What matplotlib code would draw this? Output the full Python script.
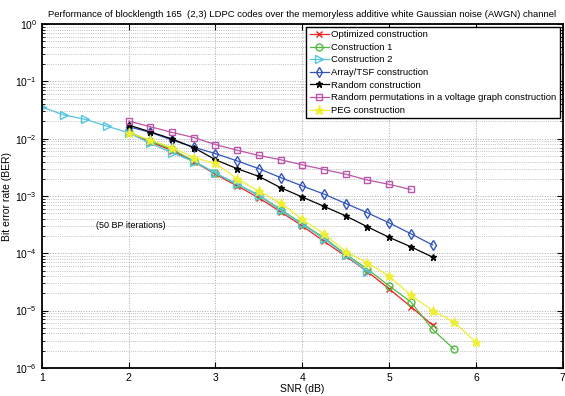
import numpy as np
import matplotlib
matplotlib.use("Agg")
import matplotlib.pyplot as plt
from matplotlib.ticker import LogLocator, NullFormatter

plt.rcParams['font.family'] = ['Liberation Sans', 'DejaVu Sans']

# SNR grids (dB)
snr_opt = [2, 2.25, 2.5, 2.75, 3, 3.25, 3.5, 3.75, 4, 4.25, 4.5, 4.75, 5, 5.25, 5.5]
snr_c1 = [2, 2.25, 2.5, 2.75, 3, 3.25, 3.5, 3.75, 4, 4.25, 4.5, 4.75, 5, 5.25, 5.5, 5.75]
snr_c2 = [1, 1.25, 1.5, 1.75, 2, 2.25, 2.5, 2.75, 3, 3.25, 3.5, 3.75, 4, 4.25, 4.5, 4.75]
snr_arr = [2, 2.25, 2.5, 2.75, 3, 3.25, 3.5, 3.75, 4, 4.25, 4.5, 4.75, 5, 5.25, 5.5]
snr_rnd = [2, 2.25, 2.5, 2.75, 3, 3.25, 3.5, 3.75, 4, 4.25, 4.5, 4.75, 5, 5.25, 5.5]
snr_volt = [2, 2.25, 2.5, 2.75, 3, 3.25, 3.5, 3.75, 4, 4.25, 4.5, 4.75, 5, 5.25]
snr_peg = [2, 2.25, 2.5, 2.75, 3, 3.25, 3.5, 3.75, 4, 4.25, 4.5, 4.75, 5, 5.25, 5.5, 5.75, 6]

# BER values
ber_opt = [0.013, 0.0088, 0.0062, 0.0040, 0.0024, 0.0015, 0.00093, 0.00053, 0.00030,
           0.000162, 8.9e-5, 4.8e-5, 2.4e-5, 1.17e-5, 5.6e-6]
ber_c1 = [0.0132, 0.0091, 0.0065, 0.0041, 0.0025, 0.0016, 0.00104, 0.00058, 0.00033,
          0.000187, 9.7e-5, 5.3e-5, 2.7e-5, 1.42e-5, 4.7e-6, 2.1e-6]
ber_c2 = [0.036, 0.026, 0.0218, 0.0166, 0.0127, 0.0083, 0.0057, 0.0040, 0.0025, 0.0016,
          0.00102, 0.00056, 0.00032, 0.00018, 9.3e-5, 4.8e-5]
ber_arr = [0.0162, 0.0129, 0.0095, 0.0071, 0.0055, 0.0041, 0.0030, 0.0021, 0.0015,
           0.00108, 0.00074, 0.00051, 0.00034, 0.00022, 0.00014]
ber_rnd = [0.0173, 0.0132, 0.0099, 0.0070, 0.0043, 0.0030, 0.0022, 0.0014, 0.00096,
           0.00066, 0.00045, 0.00029, 0.00019, 0.00013, 8.6e-5]
ber_volt = [0.0203, 0.0162, 0.0129, 0.0105, 0.0079, 0.0063, 0.0051, 0.0043, 0.0035,
            0.0029, 0.0024, 0.0019, 0.0016, 0.0013]
ber_peg = [0.0127, 0.0095, 0.0070, 0.0047, 0.0037, 0.0020, 0.00122, 0.00076, 0.00039,
           0.00022, 0.000107, 6.8e-5, 4.0e-5, 1.87e-5, 1.0e-5, 6.3e-6, 2.8e-6]

labels = ["Optimized construction", "Construction 1", "Construction 2",
          "Array/TSF construction", "Random construction",
          "Random permutations in a voltage graph construction", "PEG construction"]

fig = plt.figure(figsize=(5.65, 3.96), dpi=100)
ax = fig.add_axes([0.074, 0.071, 0.922, 0.868])

lw = 0.9
ax.semilogy(snr_opt, ber_opt, color='#ee2222', marker='x', ms=4, lw=lw, label=labels[0])
ax.semilogy(snr_c1, ber_c1, color='#55bb44', marker='o', ms=5, mfc='none', lw=lw, label=labels[1])
ax.semilogy(snr_c2, ber_c2, color='#55c4dd', marker='>', ms=6, mfc='none', lw=lw, label=labels[2])
ax.semilogy(snr_arr, ber_arr, color='#3355bb', marker='d', ms=5.5, mfc='none', lw=lw, label=labels[3])
ax.semilogy(snr_rnd, ber_rnd, color='black', marker='*', ms=4.5, lw=lw, label=labels[4])
ax.semilogy(snr_volt, ber_volt, color='#bb55aa', marker='s', ms=4.5, mfc='none', lw=lw, label=labels[5])
ax.semilogy(snr_peg, ber_peg, color='#eeee33', marker='*', ms=6.5, lw=lw, label=labels[6])

ax.set_xlim(1, 7)
ax.set_ylim(1e-6, 1)
ax.yaxis.set_major_locator(LogLocator(base=10, numticks=10))
ax.yaxis.set_minor_locator(LogLocator(base=10, subs=np.arange(2, 10), numticks=10))
ax.yaxis.set_minor_formatter(NullFormatter())
ax.grid(True, which='major', linestyle=':', color='#aaaaaa', linewidth=0.7)
ax.grid(True, which='minor', axis='y', linestyle=':', color='#aaaaaa', linewidth=0.6)
ax.tick_params(which='both', direction='in', top=True, right=True, labelsize=7.5)
ax.tick_params(which='major', length=4)
ax.tick_params(which='minor', length=2)
for s in ax.spines.values():
    s.set_linewidth(1.3)

ax.set_xlabel("SNR (dB)", fontsize=7.5, labelpad=1)
ax.set_ylabel("Bit error rate (BER)", fontsize=7.5, labelpad=2)
ax.set_title("Performance of blocklength 165  (2,3) LDPC codes over the memoryless additive white Gaussian noise (AWGN) channel",
             fontsize=6.8, pad=5)
ax.text(1.62, 3.1e-4, "(50 BP iterations)", fontsize=6.5, va='center')

leg = ax.legend(loc='upper right', fontsize=6.8, handlelength=2.0, handletextpad=0.3,
                labelspacing=0.38, borderpad=0.35, fancybox=False, framealpha=1,
                borderaxespad=0.3, edgecolor='black')
leg.get_frame().set_linewidth(1.0)

fig.savefig("out.png", dpi=100)
